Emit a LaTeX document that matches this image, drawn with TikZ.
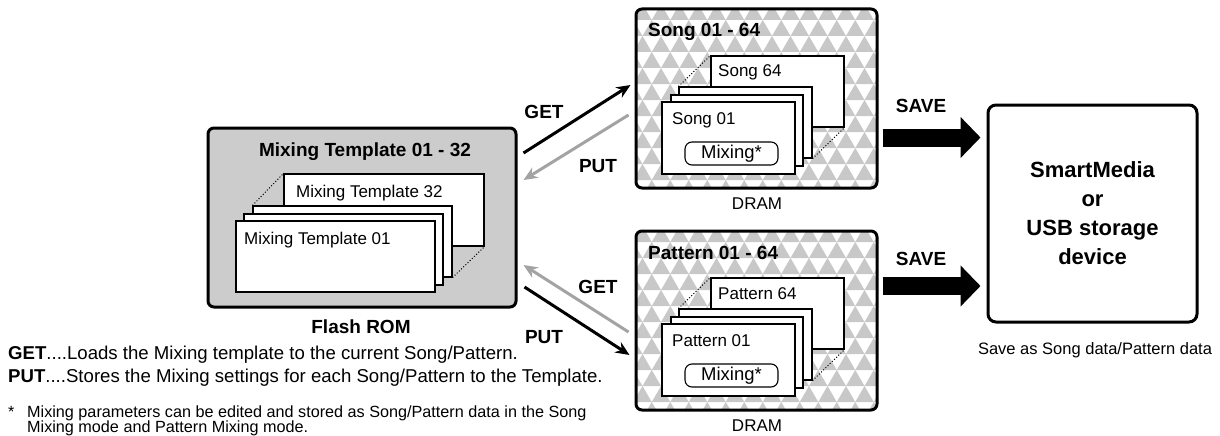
\documentclass[tikz,border=0pt]{standalone}
\usepackage{fontspec}
\setmainfont{Liberation Sans}
\usetikzlibrary{arrows.meta, positioning}
\definecolor{romgray}{HTML}{CCCCCC}
\definecolor{trigray}{HTML}{C8C8C8}
\definecolor{putgray}{HTML}{A3A3A3}
\tikzset{
  membox/.style={rectangle, rounded corners=6pt, draw=black, line width=3pt,
                 inner sep=0pt},
  card/.style={rectangle, draw=black, fill=white, line width=1.1pt,
               inner sep=0pt},
  mixbox/.style={rectangle, rounded corners=7pt, draw=black, fill=white,
                 line width=1.1pt, inner sep=0pt, minimum width=93,
                 minimum height=23, font=\fontsize{18.5}{20}\selectfont},
  link/.style={dotted, line width=1pt},
  tripattern/.style={path picture={
      \foreach \r in {0,...,12}{
        \pgfmathsetmacro\tx{mod(\r,2)*9.25-12}
        \foreach \c in {0,...,14}
          \fill[trigray, sharp corners]
            ([shift={(\tx+\c*18.5,\r*16-5)}]path picture bounding box.north west)
            -- ++(9.25,16) -- ++(-18.5,0) -- cycle;
      }}},
  ttl/.style={font=\bfseries\fontsize{19}{22}\selectfont, inner sep=0pt, anchor=base},
  txt/.style={font=\fontsize{17}{20}\selectfont, inner sep=0pt, anchor=base west},
  captxt/.style={font=\fontsize{17}{20}\selectfont, inner sep=0pt, anchor=base},
  getarr/.style={-{Stealth[length=14pt,width=12pt]}, line width=3pt, black},
  putarr/.style={-{Stealth[length=14pt,width=12pt]}, line width=3pt, putgray},
  savearr/.style={-{Triangle[length=20pt,width=40pt]}, line width=18pt, black},
}

\begin{document}
\begin{tikzpicture}[x=1pt, y=-1pt]
  \useasboundingbox (0,0) rectangle (1220,436);
  % Flash ROM
  \node[membox, fill=romgray, minimum width=308, minimum height=179] (rom) at (362,217.5) {};
  \node[ttl] (romttl) at (365,156) {Mixing Template 01 - 32};
  \node[card, minimum width=200, minimum height=72] (mt32) at (384,210) {};
  \node[card, minimum width=199, minimum height=71] (mtb) at (352.5,241.5) {};
  \node[card, minimum width=199, minimum height=71] (mtc) at (343.5,249.5) {};
  \node[card, minimum width=199, minimum height=71] (mt01) at (335.5,256.5) {};
  \draw[link] (mtb.north west) -- (mt32.north west);
  \draw[link] (mtb.south east) -- (mt32.south east);
  \node[txt] at (296,197) {Mixing Template 32};
  \node[txt] at (244,244) {Mixing Template 01};
  \node[ttl] (romlbl) at (361,333) {Flash ROM};

  % DRAM: song and pattern
  \node[membox, fill=white, tripattern, minimum width=241, minimum height=179] (song) at (756.5,98.5) {};
  \node[membox, fill=white, tripattern, minimum width=241, minimum height=179] (pat) at (756.5,320.5) {};
  \foreach \n/\t/\dy in {s/Song/0, p/Pattern/222}{
    \node[ttl, anchor=base west] at (648,37+\dy) {\t\ 01 - 64};
    \node[card, minimum width=133, minimum height=71] (\n64) at (777.5,91.5+\dy) {};
    \node[card, minimum width=133, minimum height=71] (\n b) at (745.5,122.5+\dy) {};
    \node[card, minimum width=132, minimum height=71] (\n c) at (737,130.5+\dy) {};
    \node[card, minimum width=133, minimum height=72] (\n01) at (728.5,138+\dy) {};
    \draw[link] (\n b.north west) -- (\n64.north west);
    \draw[link] (\n b.south east) -- (\n64.south east);
    \node[txt] at (718,77+\dy) {\t\ 64};
    \node[txt] at (672,124+\dy) {\t\ 01};
    \node[mixbox] (\n mix) at (731.5,153.5+\dy) {Mixing*};
    \node[captxt] at (757,209+\dy) {DRAM};
  }

  % storage
  \node[membox, rounded corners=8pt, fill=white, minimum width=209, minimum height=217] (store) at (1092.5,213.5) {};
  \node[font=\bfseries\fontsize{22}{29}\selectfont, align=center] at (store.center)
    {SmartMedia\\or\\USB storage\\device};
  \node[captxt, font=\fontsize{16.5}{19}\selectfont] at (1095,354) {Save as Song data/Pattern data};

  % GET / PUT
  \draw[getarr] ([shift={(6,-64.5)}]rom.east) -- ([shift={(-4,-13.5)}]song.west);
  \draw[putarr] ([shift={(-6,16.5)}]song.west) -- ([shift={(6,-37.5)}]rom.east);
  \draw[putarr] ([shift={(-6,11.5)}]pat.west) -- ([shift={(6,47.5)}]rom.east);
  \draw[getarr] ([shift={(7,69.5)}]rom.east) -- ([shift={(-5,34.5)}]pat.west);
  \node[ttl] at (544,118) {GET};
  \node[ttl] at (598,172) {PUT};
  \node[ttl] at (598,293) {GET};
  \node[ttl] at (544,343) {PUT};

  % SAVE
  \draw[savearr] ([shift={(4,39)}]song.east) -- ([shift={(-6,-76)}]store.west);
  \draw[savearr] ([shift={(4,-34.5)}]pat.east) -- ([shift={(-6,72.5)}]store.west);
  \node[ttl] at (921,112) {SAVE};
  \node[ttl] at (921,265) {SAVE};

  % legend
  \node[txt, font=\fontsize{18.6}{20}\selectfont] at (8,359)
    {\textbf{GET}....Loads the Mixing template to the current Song/Pattern.};
  \node[txt, font=\fontsize{18.6}{20}\selectfont] at (8,382)
    {\textbf{PUT}....Stores the Mixing settings for each Song/Pattern to the Template.};
  \node[txt, font=\fontsize{16.2}{17}\selectfont] at (8,417) {*};
  \node[txt, font=\fontsize{16.2}{17}\selectfont] at (27,417)
    {Mixing parameters can be edited and stored as Song/Pattern data in the Song};
  \node[txt, font=\fontsize{16.2}{17}\selectfont] at (27,432)
    {Mixing mode and Pattern Mixing mode.};
\end{tikzpicture}
\end{document}
